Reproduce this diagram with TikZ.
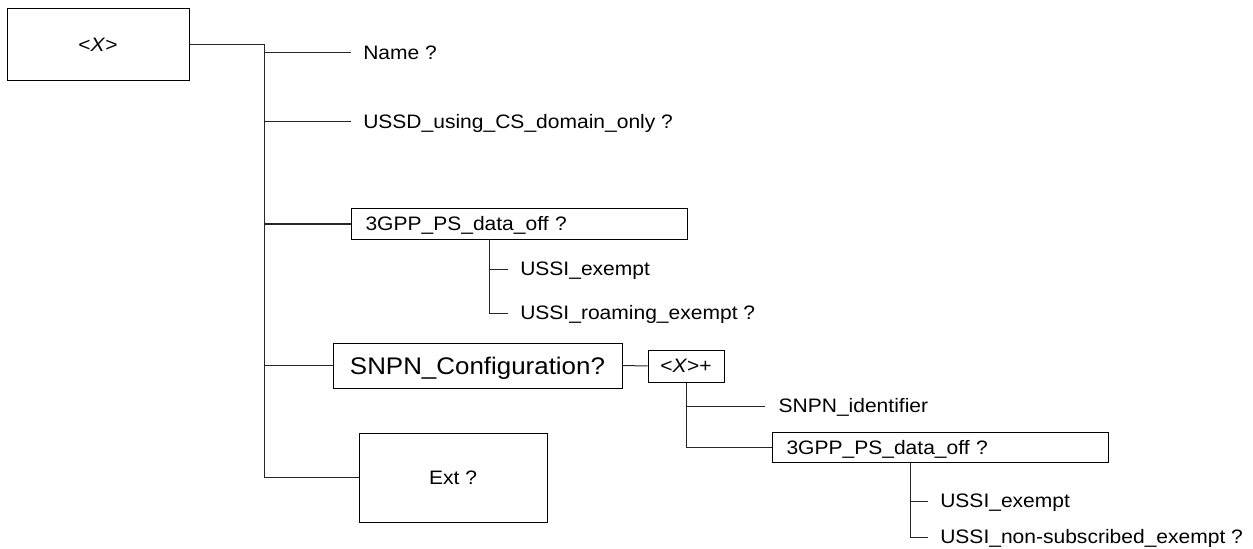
\documentclass[tikz,border=0pt]{standalone}
\usepackage{fontspec}
\setmainfont{Liberation Sans}[FakeStretch=1.08]
\usetikzlibrary{positioning,calc}

\begin{document}
\begin{tikzpicture}[x=0.75pt,y=-0.75pt,
    font=\fontsize{14.6}{17}\selectfont,
    box/.style={draw,rectangle,line width=0.75pt,text height=10.4pt,text depth=0pt},
    wide/.style={box,anchor=west,text width=231pt,inner xsep=10.5pt,minimum height=22.5pt,align=left},
    lbl/.style={anchor=west,inner xsep=9pt,inner ysep=0pt,text height=10.4pt,text depth=0pt},
    tree/.style={draw=black!85,line width=0.75pt}]
    \useasboundingbox (0,0) rectangle (1253,549);

    % Root element
    \node[box,minimum width=136.5pt,minimum height=54pt] (root) at (98,45) {<\textit{X}>};
    \coordinate (trunk) at (264,45);

    % Leaves of the root
    \node[lbl] (name) at (351,53) {Name ?};
    \node[lbl] (ussd) at (351,122) {USSD\_using\_CS\_domain\_only ?};

    % 3GPP_PS_data_off
    \node[wide] (dataoff) at (351,224) {3GPP\_PS\_data\_off ?};
    \coordinate (dataoffstem) at (489,239);
    \node[lbl] (exempt) at (508,269) {USSI\_exempt};
    \node[lbl] (roaming) at (508,313) {USSI\_roaming\_exempt ?};

    % SNPN configuration
    \node[box,minimum width=216.75pt,minimum height=33.75pt,font=\fontsize{18}{22}\selectfont,text height=13pt] (snpn) at (477.5,365.5) {SNPN\_Configuration?};
    \node[box,minimum width=57pt,minimum height=24pt] (snpnx) at (686,366) {<\textit{X}>+};
    \node[lbl,inner xsep=10pt] (snpnid) at (765,406) {SNPN\_identifier};
    \node[wide] (snpndataoff) at (772,447.5) {3GPP\_PS\_data\_off ?};
    \coordinate (snpnstem) at (910,462);
    \node[lbl] (snpnexempt) at (928,501) {USSI\_exempt};
    \node[lbl] (nonsub) at (928,537) {USSI\_non-subscribed\_exempt ?};

    % Ext
    \node[box,minimum width=141pt,minimum height=66.75pt] (ext) at (453,477.5) {Ext ?};

    % Connectors
    \draw[tree] (root.east) -- (trunk) |- (ext.west);
    \draw[tree] (trunk |- name.west) -- (name.west);
    \draw[tree] (trunk |- ussd.west) -- (ussd.west);
    \draw[tree] (trunk |- dataoff.west) -- (dataoff.west);
    \draw[tree] (trunk |- snpn.west) -- (snpn.west);
    \draw[tree] (dataoffstem) |- (roaming.west);
    \draw[tree] (dataoffstem |- exempt.west) -- (exempt.west);
    \draw[tree] (snpn.east) -- (snpnx.west);
    \draw[tree] (snpnx.south) |- (snpndataoff.west);
    \draw[tree] (snpnx.south |- snpnid.west) -- (snpnid.west);
    \draw[tree] (snpnstem) |- (nonsub.west);
    \draw[tree] (snpnstem |- snpnexempt.west) -- (snpnexempt.west);
\end{tikzpicture}
\end{document}
